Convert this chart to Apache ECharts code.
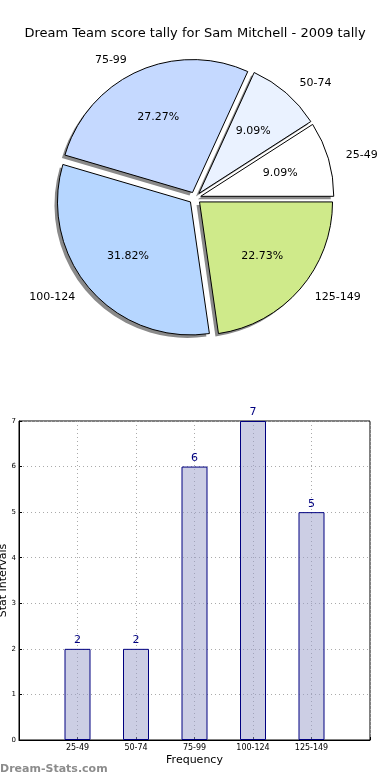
<!DOCTYPE html>
<html>
<head>
<meta charset="utf-8">
<script src="https://cdn.jsdelivr.net/npm/echarts@6/dist/echarts.min.js"></script>
<style>
html,body{margin:0;padding:0;background:#fff;}
#chart{width:390px;height:780px;}
</style>
</head>
<body>
<div id="chart"></div>
<script>
var categories = ['25-49', '50-74', '75-99', '100-124', '125-149'];
var counts = [2, 2, 6, 7, 5];
var pieColors = ['#ffffff', '#eaf2ff', '#c5d9ff', '#b6d6ff', '#cfea8a'];
var yTicks = [0, 1, 2, 3, 4, 5, 6, 7];

var FONT = 'DejaVu Sans';
var total = counts.reduce(function (a, b) { return a + b; }, 0);
var R = 133;
var CX = 195, CY = 198;

function mkData(withColor) {
  return categories.map(function (c, i) {
    var d = { name: c, value: counts[i], selected: true };
    if (withColor) d.itemStyle = { color: pieColors[i] };
    return d;
  });
}

var axisCats = [''].concat(categories).concat(['']);
var barData = [null].concat(counts).concat([null]);

var pieCommon = {
  type: 'pie',
  startAngle: 0,
  clockwise: false,
  selectedMode: 'multiple',
  selectedOffset: 6,
  avoidLabelOverlap: false,
  emphasis: { disabled: true }
};

var chart = echarts.init(document.getElementById('chart'), null, { renderer: 'canvas' });
chart.setOption({
  animation: false,
  backgroundColor: '#fff',
  title: {
    text: 'Dream Team score tally for Sam Mitchell - 2009 tally',
    left: 'center', top: 22,
    textStyle: { fontFamily: FONT, fontSize: 13, fontWeight: 'normal', color: '#000' }
  },
  graphic: [{
    type: 'text', left: 0, top: 764,
    style: { text: 'Dream-Stats.com', fontFamily: FONT, fontSize: 11, fontWeight: 'bold', fill: '#8c8c8c' }
  }],
  grid: {
    left: 19, right: 20, top: 421, bottom: 40,
    outerBoundsMode: 'none', containLabel: false,
    show: true, borderColor: '#000', borderWidth: 1, backgroundColor: 'transparent'
  },
  xAxis: {
    type: 'category', data: axisCats, boundaryGap: false,
    name: 'Frequency', nameLocation: 'middle', nameGap: 15, nameMoveOverlap: false,
    nameTextStyle: { fontFamily: FONT, fontSize: 11, color: '#000' },
    axisLine: { show: true, lineStyle: { color: '#000' } },
    axisTick: { show: true, inside: true, length: 3, lineStyle: { color: '#000' } },
    axisLabel: { fontFamily: FONT, fontSize: 8, color: '#000', margin: 4, interval: 0 },
    splitLine: { show: true, lineStyle: { color: '#aaa', type: [1, 3], width: 1 } }
  },
  yAxis: {
    type: 'value', min: 0, max: 7, interval: 1,
    name: 'Stat Intervals', nameLocation: 'middle', nameGap: 10, nameMoveOverlap: false,
    nameTextStyle: { fontFamily: FONT, fontSize: 11, color: '#000' },
    axisLine: { show: true, lineStyle: { color: '#000' } },
    axisTick: { show: true, inside: true, length: 3, lineStyle: { color: '#000' } },
    axisLabel: { fontFamily: FONT, fontSize: 7, color: '#000', margin: 3,
      formatter: function (v) { return yTicks.indexOf(v) >= 0 ? String(v) : ''; } },
    splitLine: { show: true, lineStyle: { color: '#aaa', type: [1, 3], width: 1 } }
  },
  series: [
    Object.assign({}, pieCommon, {
      name: 'shadow',
      center: [CX - 3, CY + 3],
      radius: [0, R],
      silent: true,
      data: mkData(false),
      itemStyle: { color: '#8a8a8a', borderWidth: 0 },
      label: { show: false },
      labelLine: { show: false },
      z: 1
    }),
    Object.assign({}, pieCommon, {
      name: 'pie',
      center: [CX, CY],
      radius: [0, R],
      data: mkData(true),
      itemStyle: { borderColor: '#000', borderWidth: 1 },
      label: {
        show: true, position: 'outside',
        fontFamily: FONT, fontSize: 11, color: '#000',
        formatter: '{b}'
      },
      labelLine: { show: false, length: 13, length2: 0 },
      z: 2
    }),
    Object.assign({}, pieCommon, {
      name: 'pct',
      center: [CX, CY],
      radius: [0, R * 1.2],
      silent: true,
      data: mkData(false),
      itemStyle: { color: 'rgba(0,0,0,0)', borderWidth: 0 },
      label: {
        show: true, position: 'inside',
        fontFamily: FONT, fontSize: 11, color: '#000',
        formatter: function (p) { return (p.value / total * 100).toFixed(2) + '%'; }
      },
      labelLine: { show: false },
      z: 3
    }),
    {
      type: 'bar',
      data: barData,
      barWidth: 26,
      itemStyle: { color: 'rgba(153,157,201,0.5)', borderColor: '#000080', borderWidth: 1 },
      label: {
        show: true, position: 'top', distance: 3,
        fontFamily: FONT, fontSize: 11, color: '#000080'
      },
      emphasis: { disabled: true }
    }
  ]
});
</script>
</body>
</html>
